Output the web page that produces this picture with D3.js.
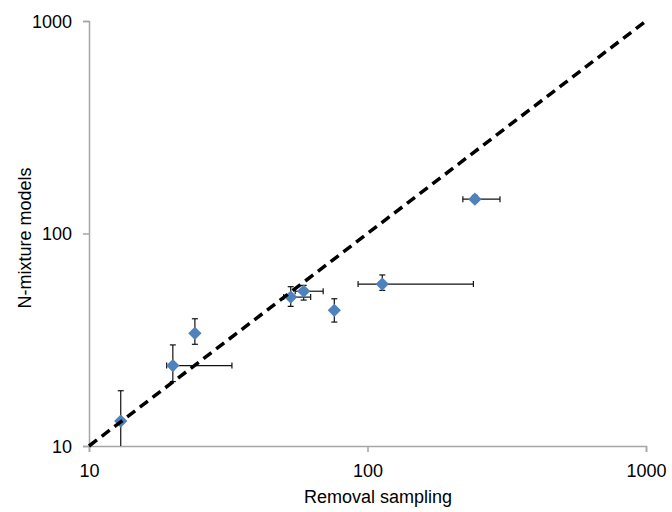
<!DOCTYPE html>
<html><head><meta charset="utf-8">
<script src="https://cdn.jsdelivr.net/npm/d3@7"></script>
<style>body{margin:0;background:#fff}svg{display:block}text{font-family:"Liberation Sans",Arial,sans-serif;fill:#000}</style>
</head><body><svg id="c" width="672" height="512"></svg>
<script>
const removal   = [13, 20, 24, 53, 59, 76, 113, 243];
const nmix      = [13.1, 23.9, 33.9, 50.2, 53.5, 43.5, 57.8, 145];
const removalLo = [13, 19, 24, 50, 55, 76, 92.5, 220];
const removalHi = [13, 32.6, 24, 62.5, 69.3, 76, 240, 299];
const nmixLo    = [8, 20.1, 30.1, 45.4, 48.6, 38.3, 54, 140];
const nmixHi    = [18.2, 29.9, 39.7, 56.2, 57, 49.3, 63.8, 151];
const ticks = [10, 100, 1000];
const lineOneToOne = [10, 1000];

const svg = d3.select("#c");
const x = d3.scaleLog().domain([10, 1000]).range([89, 646]);
const y = d3.scaleLog().domain([10, 1000]).range([446, 21]);

svg.append("defs").append("clipPath").attr("id","pa").append("rect")
  .attr("x",89).attr("y",21).attr("width",557).attr("height",425);

// axes
const xa = svg.append("g").attr("transform","translate(0,446)")
  .call(d3.axisBottom(x).tickValues(ticks).tickFormat(d3.format("d")).tickSize(6).tickPadding(8));
const ya = svg.append("g").attr("transform","translate(89,0)")
  .call(d3.axisLeft(y).tickValues(ticks).tickFormat(d3.format("d")).tickSize(6).tickPadding(11));
[xa, ya].forEach(g => {
  g.select(".domain").attr("stroke","#a6a6a6").attr("stroke-width",1.5);
  g.selectAll(".tick line").attr("stroke","#a6a6a6").attr("stroke-width",1.5);
  g.selectAll(".tick text").attr("font-size",18).attr("font-family","Liberation Sans, Arial, sans-serif").attr("fill","#000");
});
ya.selectAll(".tick text").attr("dy","0.34em");
xa.selectAll(".tick text").attr("dy","0.95em");

const data = removal.map((r,i)=>({r, n:nmix[i], rl:removalLo[i], rh:removalHi[i], nl:nmixLo[i], nh:nmixHi[i]}));
const plot = svg.append("g").attr("clip-path","url(#pa)");

// error bars
const eb = plot.append("g").attr("stroke","#111").attr("stroke-width",1.2);
const cap = 3;
data.forEach(d => {
  if (d.rh > d.rl) {
    eb.append("line").attr("x1",x(d.rl)).attr("x2",x(d.rh)).attr("y1",y(d.n)).attr("y2",y(d.n));
    [d.rl, d.rh].forEach(v => eb.append("line").attr("x1",x(v)).attr("x2",x(v)).attr("y1",y(d.n)-cap).attr("y2",y(d.n)+cap));
  }
  if (d.nh > d.nl) {
    eb.append("line").attr("x1",x(d.r)).attr("x2",x(d.r)).attr("y1",y(d.nl)).attr("y2",y(d.nh));
    [d.nl, d.nh].forEach(v => eb.append("line").attr("x1",x(d.r)-cap).attr("x2",x(d.r)+cap).attr("y1",y(v)).attr("y2",y(v)));
  }
});

// 1:1 line
svg.append("line")
  .attr("x1",x(lineOneToOne[0])).attr("y1",y(lineOneToOne[0]))
  .attr("x2",x(lineOneToOne[1])).attr("y2",y(lineOneToOne[1]))
  .attr("stroke","#000").attr("stroke-width",3.5).attr("stroke-dasharray","10,6");

// diamonds
plot.selectAll("path.pt").data(data).enter().append("path")
  .attr("d", d3.symbol().type(d3.symbolSquare).size(88))
  .attr("transform", d => `translate(${x(d.r)},${y(d.n)}) rotate(45)`)
  .attr("fill","#4f81bd");

// axis titles
svg.append("text").attr("x",378).attr("y",503).attr("text-anchor","middle").attr("font-size",18).text("Removal sampling");
svg.append("text").attr("transform","translate(31,238) rotate(-90)").attr("text-anchor","middle").attr("font-size",18).text("N-mixture models");
</script></body></html>
